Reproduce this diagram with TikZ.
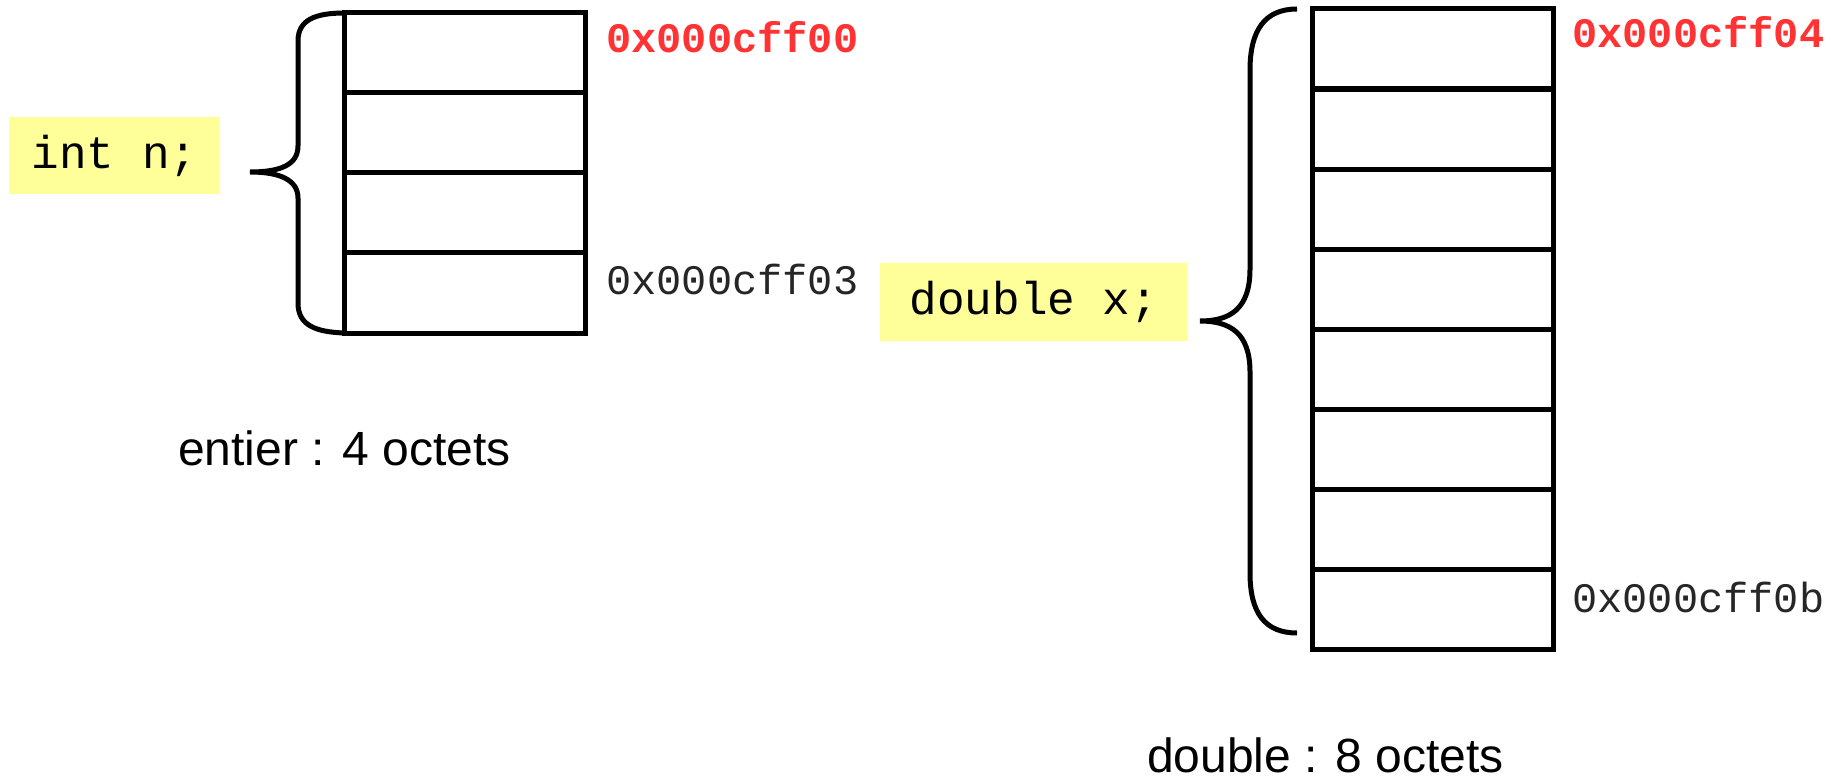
\documentclass[tikz,border=0pt]{standalone}
\usepackage{fontspec}
\setmainfont{Liberation Sans}
\setmonofont{Liberation Mono}
\definecolor{addrred}{HTML}{FF3333}
\definecolor{codebg}{HTML}{FFFF99}
\begin{document}
\begin{tikzpicture}[x=1pt,y=-1pt,
  cell/.style={draw=black,line width=5pt,minimum width=241pt,minimum height=80pt,inner sep=0pt,outer sep=0pt},
  brace/.style={draw=black,line width=5pt,line cap=butt},
  code/.style={fill=codebg,inner sep=0pt,font=\fontsize{46}{50}\selectfont\ttfamily},
  addr/.style={anchor=base west,inner sep=0pt,font=\fontsize{42}{46}\selectfont\ttfamily,text=black!85},
  addrhi/.style={addr,font=\fontsize{42}{46}\selectfont\ttfamily\bfseries,text=addrred},
  caption/.style={anchor=base west,inner sep=0pt,font=\fontsize{48}{56}\selectfont}]
\useasboundingbox (0,0) rectangle (1835,783);

% four bytes of the int
\foreach \i in {0,...,3}
  \node[cell] (n\i) at (465,{13+40+80*\i}) {};
% eight bytes of the double
\foreach \i in {0,...,7}
  \node[cell] (x\i) at (1432.5,{9+40+80.1*\i}) {};

% variable declarations
\node[code,minimum width=211pt,minimum height=77pt] (intn) at (114.5,155.5) {int n;};
\node[code,minimum width=308pt,minimum height=78pt] (dblx) at (1034,302) {double x;};

% braces joining each declaration to its bytes
\coordinate (ltip) at (250,172);
\draw[brace] (n0.north west) .. controls (315,13) and (298,20) .. (298,41)
  -- (298,146) .. controls (298,165) and (280,172) .. (ltip)
  .. controls (280,172) and (298,180) .. (298,198)
  -- (298,303) .. controls (298,325) and (315,332) .. (n3.south west);
\coordinate (rtop) at (1297,9);
\coordinate (rbot) at (1297,633);
\coordinate (rtip) at (1200,321);
\draw[brace] (rtop) .. controls (1265,9) and (1250,30) .. (1250,70)
  -- (1250,269) .. controls (1250,309) and (1230,321) .. (rtip)
  .. controls (1230,321) and (1250,333) .. (1250,372)
  -- (1250,573) .. controls (1250,613) and (1265,633) .. (rbot);

% addresses
\node[addrhi] (a00) at (606,53) {0x000cff00};
\node[addr]   (a03) at (606,295) {0x000cff03};
\node[addrhi] (a04) at (1572,48) {0x000cff04};
\node[addr]   (a0b) at (1572,612) {0x000cff0b};

% sizes
\node[caption] (szint) at (178,465) {entier : 4 octets};
\node[caption] (szdbl) at (1147,772) {double : 8 octets};
\end{tikzpicture}
\end{document}
